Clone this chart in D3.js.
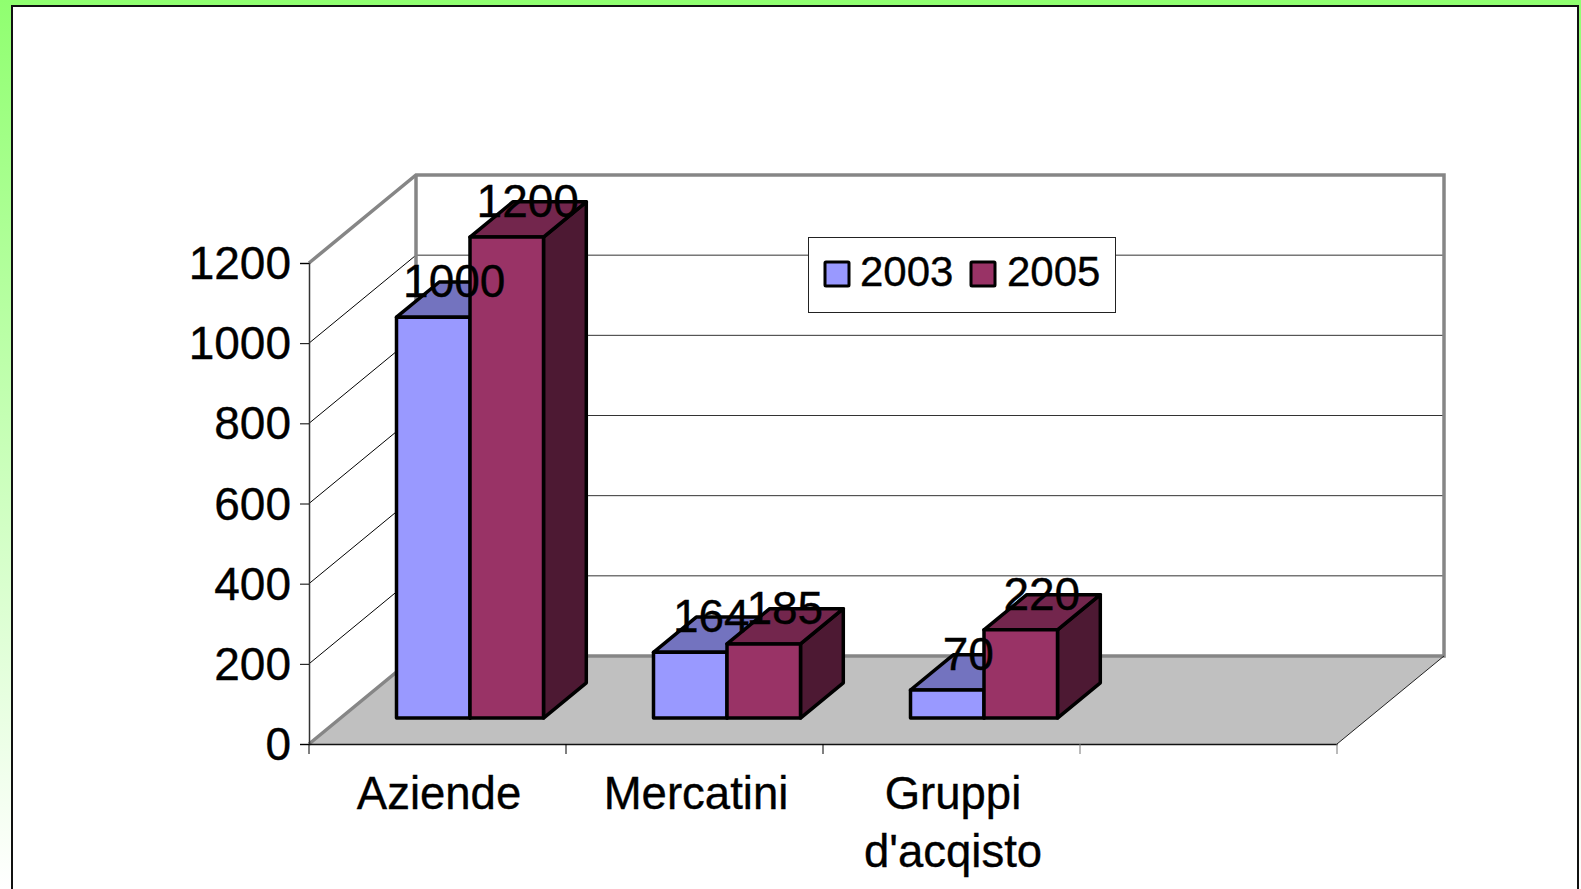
<!DOCTYPE html>
<html>
<head>
<meta charset="utf-8">
<style>
html,body{margin:0;padding:0;background:#fff;overflow:hidden}
svg{display:block}
text{font-family:"Liberation Sans",Arial,sans-serif;fill:#000;stroke:#000;stroke-width:0.35px}
</style>
<script src="https://cdn.jsdelivr.net/npm/d3@7"></script>
</head>
<body>
<script>
// values
const categories = ["Aziende","Mercatini","Gruppi d'acqisto",""];
const seriesNames = ["2003","2005"];
const values2003 = [1000,164,70];
const values2005 = [1200,185,220];
const tickValues = [0,200,400,600,800,1000,1200];
const colors2003 = {front:"#9999ff",top:"#7373bf"};
const colors2005 = {front:"#993366",top:"#73264d",side:"#4d1933"};

const W = 1581, H = 889;
const svg = d3.select("body").append("svg").attr("width",W).attr("height",H);

// slide background
const grad = svg.append("defs").append("linearGradient")
	.attr("id","bg").attr("x1",0).attr("y1",0).attr("x2",0).attr("y2",1);
grad.append("stop").attr("offset",0).attr("stop-color","#90ff70");
grad.append("stop").attr("offset",1).attr("stop-color","#ffffff");
svg.append("rect").attr("width",W).attr("height",H).attr("fill","url(#bg)");
svg.append("rect")
	.attr("x",12).attr("y",6).attr("width",1566).attr("height",H+20)
	.attr("fill","#fff").attr("stroke","#111").attr("stroke-width",2);

// chart frame: front plane + depth offset
const x0 = 309, x1 = 1337, yBase = 744, yTop = 263;
const depthX = 107, depthY = -88;
const x = d3.scaleBand().domain(categories).range([x0,x1]);
const y = d3.scaleLinear().domain([0,1200]).range([yBase,yTop]);
// bars sit about 87px in from the left of each category
const inner = d3.scaleBand().domain(seriesNames).range([87.5,234.5]);

const px = (xv,d) => xv + depthX*d;
const py = (yv,d) => yv + depthY*d;
const poly = pts => "M" + pts.map(p => p.join(",")).join("L") + "Z";

// floor
svg.append("path")
	.attr("d",poly([[x0,yBase],[x1,yBase],[px(x1,1),py(yBase,1)],[px(x0,1),py(yBase,1)]]))
	.attr("fill","#c0c0c0");

// gridlines on side wall and back wall
const grid = svg.append("g");
grid.selectAll(".side").data(tickValues.slice(1,-1)).join("line")
	.attr("x1",x0).attr("y1",d => y(d))
	.attr("x2",px(x0,1)).attr("y2",d => py(y(d),1))
	.attr("stroke","#000").attr("stroke-width",1);
grid.selectAll(".back").data(tickValues.slice(1,-1)).join("line")
	.attr("x1",px(x0,1)).attr("y1",d => py(y(d),1))
	.attr("x2",px(x1,1)).attr("y2",d => py(y(d),1))
	.attr("stroke","#333").attr("stroke-width",1);

// wall outline, thick grey
svg.append("path")
	.attr("d","M"+x0+","+yBase+"L"+px(x0,1)+","+py(yBase,1)+"L"+px(x1,1)+","+py(yBase,1)
		+"L"+px(x1,1)+","+py(yTop,1)+"L"+px(x0,1)+","+py(yTop,1)+"L"+x0+","+yTop)
	.attr("fill","none").attr("stroke","#868686").attr("stroke-width",3.5);
svg.append("line")
	.attr("x1",px(x0,1)).attr("y1",py(yTop,1)).attr("x2",px(x0,1)).attr("y2",py(yBase,1))
	.attr("stroke","#868686").attr("stroke-width",3.5);
svg.append("line")
	.attr("x1",x1).attr("y1",yBase).attr("x2",px(x1,1)).attr("y2",py(yBase,1))
	.attr("stroke","#222").attr("stroke-width",1);

// y axis
const yAxis = svg.append("g").attr("transform","translate("+x0+",0)")
	.call(d3.axisLeft(y).tickValues(tickValues).tickSize(9).tickPadding(9).tickFormat(d3.format("d")));
yAxis.select(".domain").attr("stroke","#333").attr("stroke-width",1.5);
yAxis.selectAll("line").attr("stroke","#000");
yAxis.selectAll("text").attr("font-size",46).attr("font-family",null).attr("dy",15.5);

// x axis, labels added by hand because of the line break
const xAxis = svg.append("g").attr("transform","translate(0,"+yBase+")")
	.call(d3.axisBottom(x.copy().padding(0)).tickValues([]).tickSizeOuter(0));
xAxis.select(".domain").attr("stroke","#111").attr("stroke-width",1.5);
xAxis.selectAll(".cattick").data(d3.range(categories.length+1)).join("line")
	.attr("x1",i => x0+i*x.step()).attr("x2",i => x0+i*x.step())
	.attr("y1",0).attr("y2",10)
	.attr("stroke",i => i>2 ? "#777" : "#000");
const catLabels = svg.append("g").selectAll("text").data(categories.slice(0,3)).join("text")
	.attr("text-anchor","middle").attr("font-size",45.5)
	.attr("transform",d => "translate("+(x(d)+x.bandwidth()/2+1.5)+",809)");
catLabels.selectAll("tspan").data(d => d.startsWith("Gruppi") ? d.split(" ") : [d]).join("tspan")
	.attr("x",0).attr("y",(d,i) => i*58).text(d => d);

// 3D bars
const barD0 = 0.295, barD = 0.4;
function drawBars(name,vals,cols){
	const g = svg.append("g");
	categories.slice(0,3).forEach((c,i) => {
		const xl = x(c)+inner(name), xr = xl+inner.bandwidth();
		const b = y(0)+depthY*barD0, t = y(vals[i])+depthY*barD0;
		const dx = depthX*barD, dy = depthY*barD;
		const side = cols.side || cols.top;
		const bar = g.append("g").attr("stroke","#000").attr("stroke-width",3.5).attr("stroke-linejoin","round");
		bar.append("path").attr("d",poly([[xr,b],[xr+dx,b+dy],[xr+dx,t+dy],[xr,t]])).attr("fill",side);
		bar.append("path").attr("d",poly([[xl,t],[xr,t],[xr+dx,t+dy],[xl+dx,t+dy]])).attr("fill",cols.top);
		bar.append("path").attr("d",poly([[xl,b],[xr,b],[xr,t],[xl,t]])).attr("fill",cols.front);
	});
}
drawBars("2003",values2003,colors2003);
drawBars("2005",values2005,colors2005);

// data labels
function drawLabels(name,vals){
	svg.append("g").selectAll("text").data(vals).join("text")
		.attr("text-anchor","middle").attr("font-size",46)
		.attr("x",(d,i) => x(categories[i])+inner(name)+inner.bandwidth()/2+21)
		.attr("y",(d,i) => y(d)+depthY*barD0-20)
		.text(d => d);
}
drawLabels("2003",values2003);
drawLabels("2005",values2005);

// legend
const legend = svg.append("g").attr("transform","translate(808,237)");
legend.append("rect").attr("x",0.5).attr("y",0.5).attr("width",307).attr("height",75)
	.attr("fill","#fff").attr("stroke","#222");
const legendCols = [colors2003.front,colors2005.front];
seriesNames.forEach((s,i) => {
	legend.append("rect").attr("x",17+i*146).attr("y",25).attr("width",24).attr("height",24)
		.attr("fill",legendCols[i]).attr("stroke","#000").attr("stroke-width",3).attr("rx",1);
	legend.append("text").attr("x",52+i*147).attr("y",49).attr("font-size",42).text(s);
});
</script>
</body>
</html>
